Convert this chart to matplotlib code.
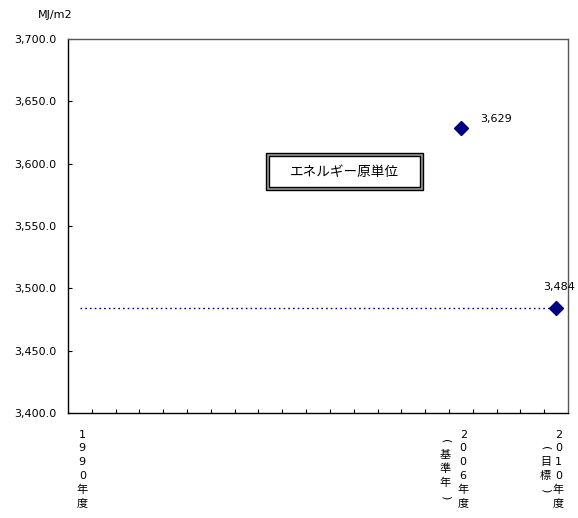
import matplotlib
matplotlib.use("Agg")
import matplotlib.pyplot as plt
from matplotlib.patches import Rectangle
from matplotlib.ticker import FuncFormatter

plt.rcParams['font.family'] = ['DejaVu Sans', 'Noto Sans CJK JP']

# fiscal years on the category axis
years = list(range(1990, 2011))
point_years = [2006, 2010]
point_values = [3629, 3484]
target_value = 3484

# vertical tick labels: main column and the bracketed note beside it
main_labels = {1990: "1990年度", 2006: "2006年度", 2010: "2010年度"}
note_labels = {2006: "(基準年)", 2010: "(目標)"}

y_ticks = [3400, 3450, 3500, 3550, 3600, 3650, 3700]
title = "エネルギー原単位の推移"
unit_label = "MJ/m2"
legend_label = "エネルギー原単位"

W, H = 578, 518
fig = plt.figure(figsize=(W / 100, H / 100), dpi=100)


def fx(px):
    return px / W


def fy(py):
    return 1 - py / H


ax = fig.add_axes([fx(68), fy(413), fx(568) - fx(68), fy(39) - fy(413)])

idx = {y: i for i, y in enumerate(years)}
navy = '#000080'

# target level as a dotted line across the whole period
ax.plot([0, len(years) - 1], [target_value, target_value], color=navy,
        lw=1, dashes=(1.2, 2.2))
xs = [idx[y] for y in point_years]
ax.plot(xs, point_values, linestyle='none', marker='D', ms=7,
        color=navy, zorder=3)

ax.annotate(f"{point_values[0]:,}", (xs[0], point_values[0]),
            xytext=(14, 6), textcoords='offset points',
            ha='left', va='center', fontsize=8)
ax.annotate(f"{point_values[1]:,}", (xs[1], point_values[1]),
            xytext=(2, 15), textcoords='offset points',
            ha='center', va='center', fontsize=8)

ax.set_xlim(-0.5, len(years) - 0.5)
ax.set_ylim(y_ticks[0], y_ticks[-1])
ax.set_yticks(y_ticks)
ax.yaxis.set_major_formatter(FuncFormatter(lambda v, _: f"{v:,.1f}"))
ax.tick_params(axis='y', direction='in', length=3, width=0.8,
               labelsize=8, pad=8.5)

ax.set_xticks([])
ax.set_xticks([i + 0.5 for i in range(len(years) - 1)], minor=True)
ax.tick_params(axis='x', which='minor', direction='in', length=3, width=0.8)

for side in ('left', 'bottom'):
    ax.spines[side].set_color('black')
    ax.spines[side].set_linewidth(1)
for side in ('top', 'right'):
    ax.spines[side].set_color('#555555')
    ax.spines[side].set_linewidth(1)

# vertical category labels, centred on one row below the axis
xt = ax.get_xaxis_transform()
row_px = 469
label_y = (413 - row_px) / 374
for yr, txt in main_labels.items():
    ax.text(idx[yr] + 0.1, label_y, "\n".join(txt), transform=xt,
            ha='center', va='center', fontsize=8, linespacing=1.45,
            clip_on=False)

# bracketed notes written top to bottom, brackets turned sideways
note_shift = {2006: -0.65, 2010: -0.45}
step_px = 14
for yr, txt in note_labels.items():
    n = len(txt)
    for k, ch in enumerate(txt):
        py = row_px + (k - (n - 1) / 2) * step_px
        rot = -90 if ch in "()" else 0
        ax.text(idx[yr] + note_shift[yr], (413 - py) / 374, ch,
                transform=xt, ha='center', va='center', fontsize=8,
                rotation=rot, clip_on=False)

# double-framed series label
fig.patches.append(Rectangle((fx(266), fy(190)), fx(423) - fx(266),
                             fy(153) - fy(190), transform=fig.transFigure,
                             facecolor='#999999', edgecolor='black', lw=1))
fig.patches.append(Rectangle((fx(269), fy(187)), fx(420) - fx(269),
                             fy(156) - fy(187), transform=fig.transFigure,
                             facecolor='white', edgecolor='black', lw=1))
fig.text(fx(344.5), fy(171.5), legend_label, ha='center', va='center',
         fontsize=9.8)

fig.text(fx(55), fy(15), unit_label, ha='center', va='center', fontsize=8)
# heading sits above the top edge of the canvas
fig.text(fx(285), fy(-8), title, ha='center', va='center', fontsize=16)

fig.savefig("out.png", dpi=100)
